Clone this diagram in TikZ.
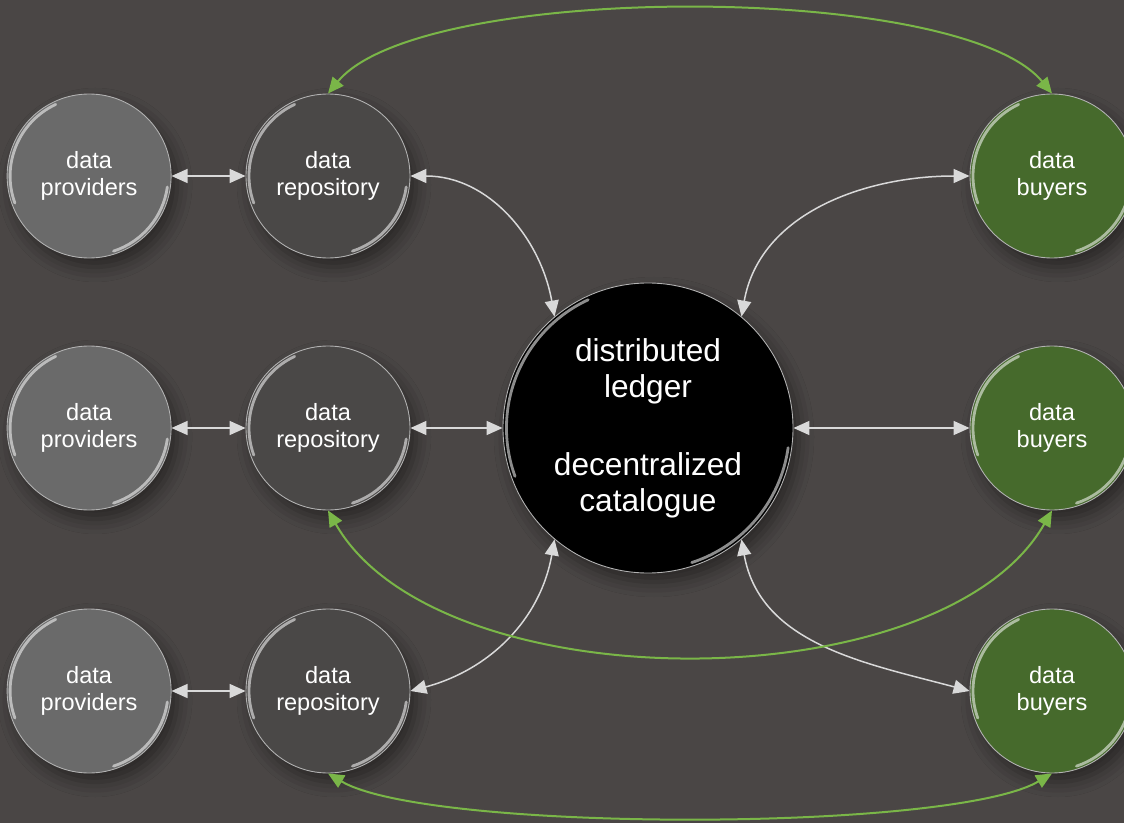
\documentclass[tikz,border=0pt]{standalone}
\usepackage{fontspec}
\setmainfont{Liberation Sans}
\usetikzlibrary{arrows.meta,positioning,shadows.blur}
\definecolor{figback}{HTML}{4A4645}
\definecolor{provfill}{HTML}{6A6A6A}
\definecolor{repofill}{HTML}{4A4847}
\definecolor{buyfill}{HTML}{466A2C}
\definecolor{linkgreen}{HTML}{7AB648}
\definecolor{linklight}{HTML}{D9D9D9}
\tikzset{
  gloss/.style={path picture={
      \draw[white, opacity=0.55, line width=1.6pt, line cap=round]
        ([shift={(115:#1)}]path picture bounding box.center)
        arc[start angle=115, end angle=200, radius=#1];
      \draw[white, opacity=0.55, line width=1.6pt, line cap=round]
        ([shift={(288:#1)}]path picture bounding box.center)
        arc[start angle=288, end angle=352, radius=#1];
  }},
  holder/.style={
    circle, draw=white!70!black, line width=0.5pt,
    minimum size=32.8mm, inner sep=0pt,
    align=center, text=white,
    font=\fontsize{13.4}{15.4}\selectfont,
    blur shadow={shadow xshift=1.2mm, shadow yshift=-1.8mm,
      shadow blur radius=3mm, shadow opacity=45},
    gloss=15.8mm
  },
  provider/.style={holder, fill=provfill},
  repo/.style={holder, fill=repofill},
  buyer/.style={holder, fill=buyfill},
  ledger/.style={holder, fill=black, minimum size=58mm,
    font=\fontsize{18}{20.5}\selectfont, gloss=28.3mm},
  link/.style={{Triangle[length=3.2mm,width=2.8mm]}-{Triangle[length=3.2mm,width=2.8mm]},
    draw=linklight, line width=0.3mm},
  trade/.style={link, draw=linkgreen, line width=0.4mm}
}

\begin{document}
\begin{tikzpicture}[x=0.2mm, y=0.2mm, node distance=14.8mm]
  \fill[figback] (0,0) rectangle (1124,823);
  \clip (0,0) rectangle (1124,823);

  % middle
  \node[ledger] (ledger) at (648,395)
    {distributed\\ledger\\[24pt]decentralized\\catalogue};

  % left side
  \node[repo] (repoA) at (328,647) {data\\repository};
  \node[repo] (repoB) at (328,395) {data\\repository};
  \node[repo] (repoC) at (328,132) {data\\repository};
  \node[provider, left=of repoA] (provA) {data\\providers};
  \node[provider, left=of repoB] (provB) {data\\providers};
  \node[provider, left=of repoC] (provC) {data\\providers};

  % right side
  \node[buyer] (buyA) at (1052,647) {data\\buyers};
  \node[buyer] (buyB) at (1052,395) {data\\buyers};
  \node[buyer] (buyC) at (1052,132) {data\\buyers};

  \draw[link] (provA) -- (repoA);
  \draw[link] (provB) -- (repoB);
  \draw[link] (provC) -- (repoC);

  \draw[link] (repoA.east) to[out=0, in=100] (ledger.130);
  \draw[link] (repoB) -- (ledger);
  \draw[link] (repoC.east) to[out=15, in=-100] (ledger.230);
  \draw[link] (buyA.west) to[out=180, in=80] (ledger.50);
  \draw[link] (buyB) -- (ledger);
  \draw[link] (buyC.west) to[out=165, in=-80] (ledger.310);

  % buyer to repository
  \draw[trade] (repoA.north) .. controls +(92,112) and +(-92,112) .. (buyA.north);
  \draw[trade] (repoB.south) .. controls +(110,-193) and +(-110,-193) .. (buyB.south);
  \draw[trade] (repoC.south) .. controls +(100,-59) and +(-100,-59) .. (buyC.south);
\end{tikzpicture}
\end{document}
